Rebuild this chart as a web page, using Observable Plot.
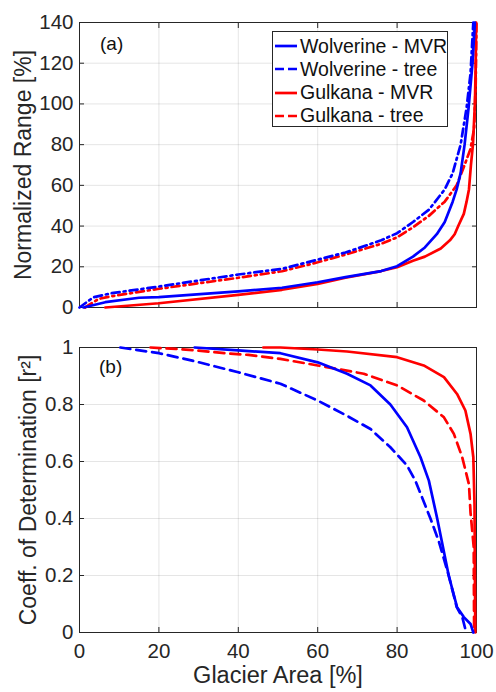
<!DOCTYPE html>
<html>
<head>
<meta charset="utf-8">
<script src="https://cdn.jsdelivr.net/npm/d3@7"></script>
<script src="https://cdn.jsdelivr.net/npm/@observablehq/plot@0.6"></script>
<style>
  html, body { margin: 0; padding: 0; background: white; }
  #wrap { position: relative; width: 496px; height: 692px; font-family: "Liberation Sans", Arial, sans-serif; color: #262626; }
  #wrap svg { display: block; }
  [aria-label="y-axis label"] text { font-size: 23px; }
  #legend { position: absolute; left: 272px; top: 31px; width: 176px; height: 96px; background: white; border: 1px solid #262626; box-sizing: border-box; }
  .row { position: absolute; left: 0; height: 20px; display: flex; align-items: center; font-size: 19.5px; color: #111; white-space: nowrap; }
  .row svg { margin-left: 2px; margin-right: 3px; }
  .panel { position: absolute; font-size: 19px; color: #111; }
</style>
</head>
<body>
<div id="wrap"></div>
<script>
// ---- data ----
const xTicks = [0, 20, 40, 60, 80, 100];
const yTicksA = [0, 20, 40, 60, 80, 100, 120, 140];
const yTicksB = [0, 0.2, 0.4, 0.6, 0.8, 1];
const seriesNames = ["Wolverine - MVR", "Wolverine - tree", "Gulkana - MVR", "Gulkana - tree"];
const seriesColors = ["#0000ff", "#0000ff", "#ff0000", "#ff0000"];
const xLabel = "Glacier Area [%]";
const yLabelA = "Normalized Range [%]";
const yLabelB = "Coeff. of Determination [r²]";

// panel (a): [glacier area %, normalized range %]
const wolverineMVR_range = [[1,0],[6.5,2.6],[15,4.8],[20,5.1],[40,7.9],[51,9.7],[60,12.4],[67,14.9],[76,17.9],[80,20.3],[84,25],[87,29.5],[90,36],[92,42],[94,52],[95,58],[96,66],[97,80],[98,98],[99,120],[99.6,140]];
const wolverineTree_range = [[0,0],[3.5,5],[8,7],[20,10.3],[40,16.2],[51,19],[60,23.5],[67,27],[76,33],[80,36.5],[84,42],[88,48],[92,58],[94,66],[96,80],[97.5,98],[98.5,115],[99.2,140]];
const gulkanaMVR_range = [[6.5,0],[20,2.1],[40,6.2],[51,8.7],[60,11.6],[67,14.6],[76,17.9],[80,19.8],[84,23],[87,25],[91,29],[93.3,33],[94.5,36],[95.4,40],[96.8,46],[97.5,52],[98.1,58],[98.6,70],[99.1,80],[99.6,100],[99.8,120],[99.9,140]];
const gulkanaTree_range = [[1.4,0],[4.8,4.2],[8,5.5],[20,9.2],[40,14.6],[51,17.8],[60,22.2],[67,26],[76,31.3],[80,34.5],[84,39.4],[88,45],[92,52],[95,60],[97,70],[98.5,78],[99.4,88],[99.8,110],[100,140]];

// panel (b): [glacier area %, r^2]
const wolverineMVR_r2 = [[29,1.0],[40,0.99],[50.6,0.98],[60,0.948],[67.4,0.908],[73.3,0.867],[78.3,0.80],[82.5,0.72],[85.9,0.615],[88,0.533],[90.1,0.40],[93,0.2],[95.1,0.089],[96.8,0.054],[98.5,0.03],[99.2,0]];
const wolverineTree_r2 = [[10.3,1.0],[20,0.98],[28.4,0.954],[40,0.913],[50.6,0.873],[60,0.814],[67.4,0.76],[73.3,0.714],[78.3,0.65],[82.5,0.586],[84.6,0.533],[88.4,0.40],[90.5,0.32],[93,0.2],[95,0.09],[96.5,0.05],[97.4,0]];
const gulkanaMVR_r2 = [[46.3,1.0],[50.6,1.0],[60,0.993],[67.4,0.986],[80,0.966],[86.7,0.937],[91.8,0.896],[95.1,0.837],[97.2,0.779],[98.5,0.697],[99.2,0.615],[99.5,0.45],[99.6,0.2],[99.7,0]];
const gulkanaTree_r2 = [[17.9,1.0],[24.2,0.995],[30,0.989],[36.8,0.98],[42.6,0.974],[50.6,0.96],[60,0.937],[71.6,0.908],[80,0.867],[86.7,0.814],[91.8,0.755],[94.3,0.697],[96.4,0.615],[98.1,0.52],[98.5,0.42],[99.3,0.3],[99.4,0]];

// ---- drawing ----
const font = '"Liberation Sans", Arial, sans-serif';
const ink = "#262626";
const W = 496;

function boxAxes(xt, yt, yfmt, showXLabels, ylabel, ylabelOffset) {
  return [
    Plot.gridX(xt, {stroke: ink, strokeOpacity: 0.12}),
    Plot.gridY(yt, {stroke: ink, strokeOpacity: 0.12}),
    // inward ticks on all four sides
    Plot.axisX(xt, {anchor: "bottom", tickSize: -5, tickFormat: () => "", label: null, stroke: ink}),
    Plot.axisX(xt, {anchor: "top", tickSize: -5, tickFormat: () => "", label: null, stroke: ink}),
    Plot.axisY(yt, {anchor: "left", tickSize: -5, tickFormat: () => "", label: null, stroke: ink}),
    Plot.axisY(yt, {anchor: "right", tickSize: -5, tickFormat: () => "", label: null, stroke: ink}),
    // tick labels
    Plot.axisY(yt, {anchor: "left", tickSize: 0, tickPadding: 6, tickFormat: yfmt, fill: ink, fontSize: 20.5,
      label: ylabel, labelAnchor: "center", labelArrow: "none", labelOffset: ylabelOffset}),
    showXLabels
      ? Plot.axisX(xt, {anchor: "bottom", tickSize: 0, tickPadding: 10.5, fill: ink, fontSize: 20.5, label: null})
      : Plot.axisX(xt, {anchor: "bottom", tickSize: 0, tickFormat: () => "", label: null}),
    showXLabels
      ? Plot.text([xLabel], {text: d => d, frameAnchor: "bottom", lineAnchor: "bottom", dy: 50, fontSize: 23.5, fill: ink})
      : null,
    Plot.frame({stroke: ink, strokeWidth: 1})
  ];
}

function lineMark(data, color, dash) {
  return Plot.line(data, {x: d => d[0], y: d => d[1], stroke: color, strokeWidth: 2.7,
    strokeDasharray: dash, strokeLinejoin: "round"});
}

const plotA = Plot.plot({
  width: W, height: 320,
  marginLeft: 79, marginRight: 20, marginTop: 22, marginBottom: 13,
  style: {fontFamily: font, fontSize: "20px", color: ink, background: "white", overflow: "visible"},
  x: {domain: [0, 100]},
  y: {domain: [0, 140]},
  marks: [
    ...boxAxes(xTicks, yTicksA, d => String(d), false, yLabelA, 65),
    lineMark(gulkanaMVR_range, seriesColors[2], null),
    lineMark(gulkanaTree_range, seriesColors[3], "8,4,2,4"),
    lineMark(wolverineMVR_range, seriesColors[0], null),
    lineMark(wolverineTree_range, seriesColors[1], "8,4,2,4")
  ]
});

const plotB = Plot.plot({
  width: W, height: 372,
  marginLeft: 79, marginRight: 20, marginTop: 27, marginBottom: 60,
  style: {fontFamily: font, fontSize: "20px", color: ink, background: "white", overflow: "visible"},
  x: {domain: [0, 100]},
  y: {domain: [0, 1]},
  marks: [
    ...boxAxes(xTicks, yTicksB, d => String(d), true, yLabelB, 60),
    lineMark(gulkanaMVR_r2, seriesColors[2], null),
    lineMark(gulkanaTree_r2, seriesColors[3], "10,6"),
    lineMark(wolverineMVR_r2, seriesColors[0], null),
    lineMark(wolverineTree_r2, seriesColors[1], "10,6")
  ]
});

const wrap = document.getElementById("wrap");
wrap.appendChild(plotA);
wrap.appendChild(plotB);

// panel labels
[["(a)", 100, 33], ["(b)", 99, 356]].forEach(([t, x, y]) => {
  const d = document.createElement("div");
  d.className = "panel"; d.textContent = t;
  d.style.left = x + "px"; d.style.top = y + "px";
  wrap.appendChild(d);
});

// legend
const legend = document.createElement("div");
legend.id = "legend";
const dashes = [null, "9,4", null, "9,4"];
seriesNames.forEach((name, i) => {
  const row = document.createElement("div");
  row.className = "row";
  row.style.top = (4 + i * 23.3) + "px";
  const ns = "http://www.w3.org/2000/svg";
  const s = document.createElementNS(ns, "svg");
  s.setAttribute("width", 22); s.setAttribute("height", 6);
  const ln = document.createElementNS(ns, "line");
  ln.setAttribute("x1", 0); ln.setAttribute("x2", 22); ln.setAttribute("y1", 3); ln.setAttribute("y2", 3);
  ln.setAttribute("stroke", seriesColors[i]); ln.setAttribute("stroke-width", 2.7);
  if (dashes[i]) ln.setAttribute("stroke-dasharray", dashes[i]);
  s.appendChild(ln);
  row.appendChild(s);
  const tx = document.createElement("span");
  tx.textContent = name;
  row.appendChild(tx);
  legend.appendChild(row);
});
wrap.appendChild(legend);
</script>
</body>
</html>
